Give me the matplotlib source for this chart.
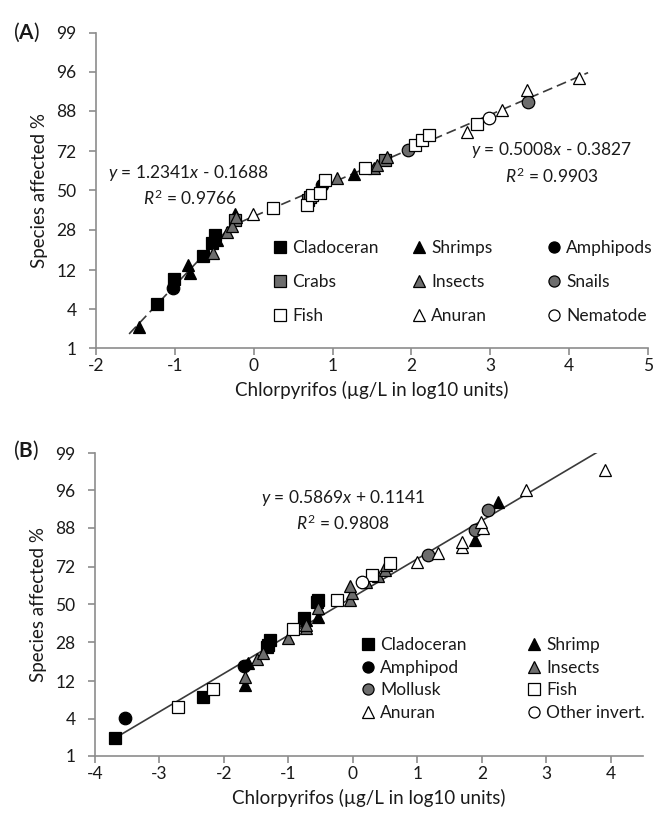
import matplotlib
matplotlib.use("Agg")
import matplotlib.pyplot as plt
from matplotlib.lines import Line2D
from matplotlib.legend import Legend
from statistics import NormalDist

plt.rcParams["font.family"] = ["Lato", "DejaVu Sans"]
plt.rcParams["mathtext.fontset"] = "custom"
plt.rcParams["mathtext.rm"] = "Lato"
plt.rcParams["mathtext.it"] = "Lato:italic"
plt.rcParams["mathtext.bf"] = "Lato:bold"

# y axis is in probit (z) units, labelled as percent
pct_ticks = [1, 4, 12, 28, 50, 72, 88, 96, 99]

# ---- panel A: x = log10 conc, z = probit of species affected ----
a_clad_x = [-1.23, -1.01, -0.64, -0.53, -0.49]
a_clad_z = [-1.68, -1.31, -0.97, -0.78, -0.66]
a_shrimp_x = [-1.45, -0.83, -0.81, -0.47, -0.24, 1.27]
a_shrimp_z = [-2.01, -1.10, -1.22, -0.73, -0.34, 0.25]
a_amph_x = [-1.02, 0.86]
a_amph_z = [-1.44, 0.08]
a_crab_x = [-0.24, 0.69, 0.72, 1.67]
a_crab_z = [-0.44, -0.14, -0.10, 0.45]
a_insect_x = [-0.51, -0.34, -0.28, -0.22, 1.06, 1.52, 1.56, 1.69]
a_insect_z = [-0.93, -0.61, -0.53, -0.39, 0.18, 0.33, 0.38, 0.50]
a_snail_x = [1.96, 3.48]
a_snail_z = [0.60, 1.30]
a_fish_x = [0.25, 0.67, 0.74, 0.84, 0.91, 1.41, 2.05, 2.14, 2.22, 2.83]
a_fish_z = [-0.26, -0.21, -0.07, -0.04, 0.16, 0.33, 0.67, 0.75, 0.82, 0.98]
a_anuran_x = [-0.01, 2.71, 3.15, 3.47, 4.13]
a_anuran_z = [-0.34, 0.87, 1.19, 1.49, 1.66]
a_nema_x = [2.98]
a_nema_z = [1.07]

a_fit1 = (1.2341, -0.1688, -1.58, -0.15)   # slope, intercept, x from, x to
a_fit2 = (0.5008, -0.3827, -0.35, 4.24)

# ---- panel B ----
b_clad_x = [-3.69, -2.32, -1.33, -1.31, -1.29, -0.76, -0.56, -0.54]
b_clad_z = [-2.05, -1.42, -0.66, -0.62, -0.54, -0.21, 0.04, 0.07]
b_shrimp_x = [-1.67, -1.62, -0.72, -0.54, 1.89, 2.25]
b_shrimp_z = [-1.24, -0.90, -0.24, -0.19, 0.99, 1.58]
b_amph_x = [-3.54, -1.69]
b_amph_z = [-1.75, -0.95]
b_insect_x = [-1.67, -1.49, -1.39, -1.00, -0.72, -0.72, -0.54, -0.05, -0.02, -0.05,
              0.21, 0.39, 0.50, 0.52]
b_insect_z = [-1.11, -0.83, -0.75, -0.52, -0.36, -0.31, -0.06, 0.07, 0.17, 0.28,
              0.35, 0.43, 0.53, 0.60]
b_moll_x = [1.17, 1.89, 2.10]
b_moll_z = [0.76, 1.15, 1.45]
b_fish_x = [-2.71, -2.17, -0.93, -0.25, 0.29, 0.57]
b_fish_z = [-1.57, -1.29, -0.37, 0.07, 0.45, 0.63]
b_anuran_x = [0.99, 1.32, 1.69, 1.70, 2.02, 1.99, 2.69, 3.91]
b_anuran_z = [0.66, 0.79, 0.89, 0.96, 1.17, 1.27, 1.76, 2.07]
b_other_x = [0.14]
b_other_z = [0.35]

b_fit = (0.5869, 0.1141, -3.60, 3.85)

BLACK, GRAY, WHITE = "#000000", "#6d6d6d", "#ffffff"
AXCOL = "#8c8c8c"
TXT = "#1a1a1a"
MS = 9

panel_a = [
    ("Cladoceran", a_clad_x, a_clad_z, "s", BLACK),
    ("Shrimps", a_shrimp_x, a_shrimp_z, "^", BLACK),
    ("Amphipods", a_amph_x, a_amph_z, "o", BLACK),
    ("Crabs", a_crab_x, a_crab_z, "s", GRAY),
    ("Insects", a_insect_x, a_insect_z, "^", GRAY),
    ("Snails", a_snail_x, a_snail_z, "o", GRAY),
    ("Fish", a_fish_x, a_fish_z, "s", WHITE),
    ("Anuran", a_anuran_x, a_anuran_z, "^", WHITE),
    ("Nematode", a_nema_x, a_nema_z, "o", WHITE),
]
panel_b = [
    ("Cladoceran", b_clad_x, b_clad_z, "s", BLACK),
    ("Shrimp", b_shrimp_x, b_shrimp_z, "^", BLACK),
    ("Amphipod", b_amph_x, b_amph_z, "o", BLACK),
    ("Insects", b_insect_x, b_insect_z, "^", GRAY),
    ("Mollusk", b_moll_x, b_moll_z, "o", GRAY),
    ("Fish", b_fish_x, b_fish_z, "s", WHITE),
    ("Anuran", b_anuran_x, b_anuran_z, "^", WHITE),
    ("Other invert.", b_other_x, b_other_z, "o", WHITE),
]

W, H = 655, 813
fig = plt.figure(figsize=(W / 100, H / 100), dpi=100)


def px_box(left, top, right, bottom):
    return [left / W, 1 - bottom / H, (right - left) / W, (bottom - top) / H]


def style_axes(ax, xmin, xmax, xticks):
    zt = [NormalDist().inv_cdf(p / 100) for p in pct_ticks]
    ax.set_ylim(zt[0], zt[-1])
    ax.set_yticks(zt)
    ax.set_yticklabels([str(p) for p in pct_ticks])
    ax.set_xlim(xmin, xmax)
    ax.set_xticks(xticks)
    ax.set_xticklabels([str(t) for t in xticks])
    for s in ("top", "right"):
        ax.spines[s].set_visible(False)
    for s in ("left", "bottom"):
        ax.spines[s].set_color(AXCOL)
        ax.spines[s].set_linewidth(1.2)
    ax.tick_params(axis="both", colors=AXCOL, labelcolor=TXT,
                   labelsize=12.5, length=5, width=1.2)
    ax.tick_params(axis="y", pad=9)
    ax.tick_params(axis="x", pad=2)
    ax.set_ylabel("Species affected %", fontsize=13.5, color=TXT, labelpad=6)
    ax.set_xlabel("Chlorpyrifos (\u00b5g/L in log10 units)", fontsize=13.5,
                  color=TXT, labelpad=5)


def draw_points(ax, groups):
    for name, xs, zs, mk, fc in groups:
        ax.plot(xs, zs, ls="none", marker=mk, ms=MS, mfc=fc, mec="#000000",
                mew=0.9, clip_on=False, zorder=3)


def draw_fit(ax, fit, ls):
    m, c, x0, x1 = fit
    ax.plot([x0, x1], [m * x0 + c, m * x1 + c], color="#3a3a3a", lw=1.2,
            ls=ls, zorder=2)


def note(ax, x, y, s):
    # x, y in figure pixels from top-left
    ax.text(x / W, 1 - y / H, s, transform=fig.transFigure, fontsize=12.5,
            ha="center", va="center", color=TXT)


def column_legend(ax, entries, left, top, spacing):
    handles = [Line2D([], [], ls="none", marker=mk, ms=8, mfc=fc, mec="#000000",
                      mew=0.9) for name, xs, zs, mk, fc in entries]
    leg = Legend(ax, handles, [e[0] for e in entries], loc="upper left",
                 bbox_to_anchor=(left / W, 1 - top / H),
                 bbox_transform=fig.transFigure, frameon=False, borderpad=0,
                 labelspacing=spacing, handlelength=0.7, handletextpad=0.35,
                 borderaxespad=0, fontsize=12.5, labelcolor=TXT)
    ax.add_artist(leg)


# ---- panel A ----
ax1 = fig.add_axes(px_box(96, 33, 648, 348))
style_axes(ax1, -2, 5, list(range(-2, 6)))
draw_fit(ax1, a_fit1, (0, (6, 3)))
draw_fit(ax1, a_fit2, (0, (6, 3)))
draw_points(ax1, panel_a)
note(ax1, 188, 173, r"$y$ = 1.2341$x$ - 0.1688")
note(ax1, 190, 198, r"$R^2$ = 0.9766")
note(ax1, 551, 150, r"$y$ = 0.5008$x$ - 0.3827")
note(ax1, 552, 176, r"$R^2$ = 0.9903")
for i, x in enumerate([274, 413, 548]):
    column_legend(ax1, panel_a[i::3], x, 240, 1.05)

# ---- panel B ----
ax2 = fig.add_axes(px_box(95, 453, 643, 756))
style_axes(ax2, -4, 4.5, list(range(-4, 5)))
draw_fit(ax2, b_fit, "-")
draw_points(ax2, panel_b)
note(ax2, 343, 498, r"$y$ = 0.5869$x$ + 0.1141")
note(ax2, 343, 523, r"$R^2$ = 0.9808")
column_legend(ax2, panel_b[0::2], 362, 637, 0.38)
column_legend(ax2, panel_b[1::2], 528, 637, 0.38)

fig.text(13 / W, 1 - 32 / H, r"($\mathbf{A}$)", fontsize=15, va="center",
         ha="left", color=TXT)
fig.text(13 / W, 1 - 450 / H, r"($\mathbf{B}$)", fontsize=15, va="center",
         ha="left", color=TXT)

fig.savefig("out.png", dpi=100)
plt.close(fig)
